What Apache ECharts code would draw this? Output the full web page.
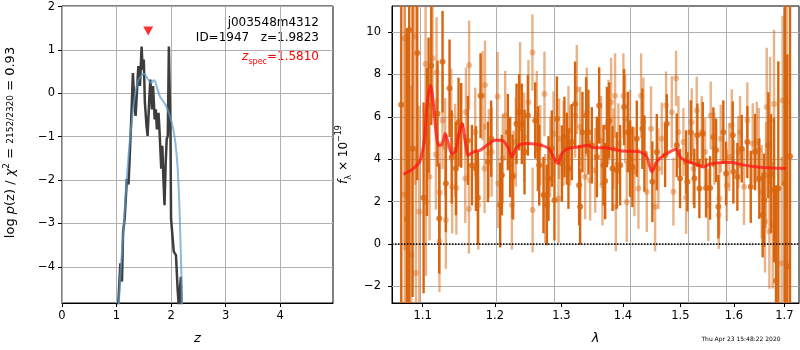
<!DOCTYPE html>
<html><head><meta charset="utf-8">
<script src="https://cdn.jsdelivr.net/npm/echarts@6/dist/echarts.min.js"></script>
<style>html,body{margin:0;padding:0;background:#fff}#c{width:800px;height:350px}</style>
</head><body><div id="c"></div>
<script>
// ---------- left panel: log p(z) ----------
const pzZ = [1.03,1.07,1.10,1.12,1.15,1.17,1.19,1.22,1.24,1.27,1.30,1.33,1.35,1.38,1.40,1.43,1.46,1.48,1.50,1.52,1.55,1.57,1.60,1.62,1.65,1.67,1.70,1.72,1.74,1.77,1.79,1.82,1.84,1.86,1.88,1.90,1.92,1.94,1.96,1.97,1.99,2.00,2.03,2.05,2.09,2.12,2.14,2.16,2.18,2.19];
const pzLogP = [-4.9,-3.92,-4.34,-3.20,-2.89,-2.85,-1.97,-2.10,-1.51,-0.60,0.47,-0.29,-0.52,0.17,0.63,0.17,1.08,0.55,0.78,-0.21,-0.75,-0.98,-0.14,0.32,-0.37,0.17,-0.60,-0.37,-0.83,-0.45,-0.90,-1.74,-1.21,-1.97,-2.58,-1.66,-1.06,-0.98,1.08,1.12,-0.98,-2.89,-3.35,-3.65,-3.73,-4.50,-4.9,-4.9,-4.23,-4.9];
const fitZ = [1.04,1.08,1.12,1.16,1.20,1.24,1.28,1.32,1.36,1.40,1.45,1.50,1.55,1.60,1.64,1.68,1.71,1.75,1.80,1.85,1.90,1.95,2.00,2.04,2.08,2.12,2.15,2.17,2.19,2.20];
const fitLogP = [-4.9,-4.0,-3.3,-2.5,-1.75,-1.15,-0.65,-0.2,0.12,0.30,0.40,0.45,0.38,0.28,0.25,0.30,0.27,0.10,-0.08,-0.17,-0.27,-0.42,-0.62,-0.82,-1.15,-1.7,-2.5,-3.3,-4.2,-4.9];
const zSpec = 1.581, zSpecMarkY = 1.44;
const leftXTicks = [0,1,2,3,4];
const leftYTicks = [-4,-3,-2,-1,0,1,2];

// ---------- right panel: spectrum ----------
const rightXTicks = [1.1,1.2,1.3,1.4,1.5,1.6,1.7];
const rightYTicks = [-2,0,2,4,6,8,10];
const darkWave = [1.0722,1.0795,1.0825,1.0869,1.0930,1.1014,1.1058,1.1080,1.1116,1.1200,1.1223,1.1268,1.1313,1.1363,1.1393,1.1451,1.1487,1.1524,1.1617,1.1673,1.1730,1.1757,1.1795,1.1900,1.1947,1.2077,1.2102,1.2189,1.2223,1.2258,1.2317,1.2356,1.2396,1.2436,
1.2486,1.2597,1.2638,1.2658,1.2723,1.2775,1.2800,1.2851,1.2892,1.2930,1.3008,1.3048,1.3086,1.3111,1.3165,1.3217,1.3281,1.3297,1.3334,1.3393,1.3430,1.3485,1.3567,1.3605,1.3676,1.3703,1.3732,1.3770,1.3825,1.3897,1.3952,1.4019,1.4081,1.4120,1.4160,1.4235,1.4331,1.4366,1.4504,1.4582,
1.4728,1.4758,1.4936,1.4996,1.5105,1.5129,1.5190,1.5256,1.5311,1.5348,1.5411,1.5472,1.5547,1.5609,1.5660,1.5703,1.5797,1.5849,1.5977,1.5989,1.6066,1.6151,1.6260,1.6327,1.6411,1.6496,1.6563,1.6590,1.6676,1.6730,1.6791,1.6831,1.6878,1.7014,1.7061,1.7117];
const darkFlux = [6.57,1.18,10.10,4.50,9.01,2.18,4.82,6.54,8.41,6.15,1.21,8.60,2.86,7.35,4.11,3.56,5.75,5.60,4.89,3.72,3.56,2.18,7.00,3.87,4.97,1.84,3.25,5.28,4.11,3.17,5.67,6.22,5.67,4.34,
6.07,5.83,4.50,3.72,2.31,1.84,3.09,4.50,2.07,5.91,3.80,5.05,4.50,3.56,4.81,6.61,2.78,1.76,5.28,6.07,5.28,4.66,4.11,6.54,3.72,2.97,5.52,5.83,3.56,3.48,3.72,6.46,5.28,4.03,3.64,4.97,5.44,4.27,2.94,4.34,
4.19,5.67,4.66,3.09,3.87,2.94,5.28,3.09,5.13,2.62,5.20,2.65,2.65,5.05,4.42,1.76,5.28,3.33,5.13,3.41,3.17,4.50,4.81,2.70,4.34,3.09,1.37,2.07,4.66,3.33,2.54,-1.73,2.62,2.86,-1.05,4.14];
const darkErr = [10,9,13,7,6,4.5,3.5,3.2,2.8,2.5,2.6,2.4,2.3,2.3,2.2,2.2,2.1,2.0,2.1,1.9,2.0,2.2,2.0,1.9,1.8,2.0,1.9,1.8,1.9,2.0,1.9,1.8,1.9,2.0,
1.9,1.8,2.0,1.9,1.8,1.9,2.0,1.8,1.9,2.0,1.8,1.9,1.7,1.9,1.8,2.0,1.9,1.8,1.9,1.8,2.0,1.8,1.9,1.8,1.9,1.8,1.9,1.8,2.0,1.8,1.9,1.8,1.9,1.8,1.9,1.8,1.9,1.8,1.9,1.8,
1.5,1.4,1.5,1.4,1.5,1.4,1.5,1.4,1.5,1.4,1.5,1.4,1.5,1.4,1.5,1.5,1.5,1.5,1.6,1.5,1.6,1.6,1.7,1.7,1.8,1.9,2.0,2.2,2.5,2.8,3.4,4.5,6,9,10,12];
const lightWave = [1.0765,1.0768,1.0852,1.0904,1.0913,1.0956,1.1040,1.1045,1.1093,1.1133,1.1178,1.1187,1.1226,1.1230,1.1268,1.1304,1.1313,1.1386,1.1399,1.1441,1.1457,1.1580,1.1590,1.1631,1.1634,1.1720,1.1764,1.1823,1.1852,1.1859,1.1913,1.1954,1.2039,1.2049,1.2115,1.2150,1.2248,1.2272,1.2307,1.2370,1.2431,
1.2495,1.2555,1.2558,1.2622,1.2673,1.2738,1.2749,1.2826,1.2877,1.2955,1.2965,1.3033,1.3111,1.3138,1.3217,1.3244,1.3297,1.3377,1.3404,1.3458,1.3540,1.3637,1.3659,1.3757,1.3802,1.3840,1.3868,1.3880,1.3923,1.4007,1.4036,1.4064,1.4120,1.4194,1.4263,1.4309,1.4348,1.4407,1.4481,1.4552,1.4610,
1.4670,1.4746,1.4847,1.4876,1.4924,1.4966,1.5056,1.5105,1.5208,1.5237,1.5300,1.5392,1.5453,1.5514,1.5559,1.5627,1.5710,1.5721,1.5748,1.5862,1.5912,1.5958,1.6085,1.6118,1.6196,1.6260,1.6366,1.6446,1.6485,1.6544,1.6610,1.6630,1.6644,1.6697,1.6711,1.6765,1.6791,1.6946,1.6966,1.7048];
const lightFlux = [9.71,2.34,-0.51,9.79,-1.37,1.53,8.49,2.00,3.17,8.76,4.22,8.10,0.13,2.43,5.83,4.58,1.13,6.07,2.70,4.42,2.65,3.09,6.23,1.65,8.44,5.28,1.84,7.00,3.56,7.50,4.27,4.34,6.96,2.86,4.03,6.07,1.84,3.25,4.81,7.43,5.05,
6.69,9.04,1.61,6.07,4.66,7.08,2.15,4.11,5.20,2.15,4.97,4.74,5.36,4.66,6.07,7.29,5.52,3.17,6.22,3.01,3.48,4.89,2.78,5.75,6.69,4.50,7.00,1.76,4.74,7.00,5.91,1.99,5.28,3.41,2.62,7.00,5.75,2.47,5.44,1.76,3.56,
4.97,6.54,6.22,2.47,7.82,5.28,4.81,2.18,5.75,3.56,6.30,5.28,4.34,1.84,6.07,4.50,1.37,2.15,4.97,2.78,4.11,5.60,4.34,5.28,2.70,5.83,4.74,4.81,4.42,2.47,1.06,3.25,6.46,0.59,5.83,0.90,6.61,-0.90,6.77,6.69];
const lightErr = [10,9,8,7,6,5,3.5,3.5,3.0,2.8,2.6,2.6,2.4,2.4,2.3,2.3,2.3,2.2,2.2,2.2,2.2,2.1,2.1,2.1,2.1,2.1,2.1,2.1,2.1,2.1,2.1,2.1,2.1,2.1,2.1,2.1,2.1,2.1,2.1,2.1,2.1,
2.0,1.8,2.0,2.1,1.9,2.0,2.1,1.9,2.0,2.1,1.9,2.0,2.1,1.9,2.0,2.1,1.9,2.0,2.1,1.9,2.0,2.1,1.9,2.0,2.1,1.9,2.0,2.1,1.9,2.0,2.1,1.9,2.0,2.1,1.9,2.0,2.1,1.9,2.0,2.1,1.9,
1.7,1.6,1.7,1.6,1.3,1.7,1.6,1.7,1.6,1.7,1.6,1.7,1.6,1.7,1.6,1.7,1.6,1.7,1.6,1.7,1.6,1.7,1.7,1.7,1.8,1.8,1.9,1.9,2.0,2.2,2.4,2.5,2.8,2.7,3.0,3.0,3.5,5,4,5];
const modelWave = [1.0751,1.0882,1.0970,1.1026,1.1058,1.1106,1.1147,1.1179,1.1214,1.1260,1.1304,1.1341,1.1396,1.1441,1.1487,1.1534,1.1580,1.1625,1.1696,1.1790,1.1886,1.2005,1.2102,1.2198,1.2248,1.2322,1.2446,1.2647,1.2800,1.2903,1.2945,1.3008,1.3111,1.3270,1.3430,1.3511,1.3703,1.3868,1.3981,1.4150,1.4292,1.4407,1.4494,1.4582,1.4640,1.4758,1.4924,1.4996,1.5117,1.5300,1.5422,1.5547,1.5797,1.5958,1.6118,1.6378,1.6644,1.7035];
const modelFlux = [3.29,3.57,3.96,4.98,6.54,7.48,6.54,5.29,4.66,4.69,5.21,4.82,4.27,4.35,5.13,5.68,4.82,4.19,4.35,4.43,4.66,4.90,4.90,4.51,4.11,4.58,4.74,4.69,4.51,3.96,3.80,4.27,4.51,4.58,4.66,4.54,4.54,4.46,4.39,4.38,4.35,4.11,3.41,3.88,4.05,4.27,4.47,4.11,3.91,3.76,3.64,3.78,3.85,3.85,3.76,3.66,3.60,3.57];

// ---------- chart ----------
const FONT = 'DejaVu Sans';
const L10 = Math.log10;
const xMinR = 1.0603, xMaxR = 1.7303, yMinR = -2.78, yMaxR = 11.23;
const minus = v => (v < 0 ? '\u2212' + Math.abs(v) : String(v));
const DARK = '#d8650e', LIGHT = 'rgba(216,101,14,0.5)';

function barData(w, f, e) { return w.map((x, i) => [L10(x), f[i] - e[i], f[i] + e[i]]); }
function ptData(w, f) { return w.map((x, i) => [L10(x), f[i]]); }
function errRender(color) {
  return function (params, api) {
    const x = api.value(0);
    const lo = Math.max(api.value(1), yMinR), hi = Math.min(api.value(2), yMaxR);
    const a = api.coord([x, lo]), b = api.coord([x, hi]);
    return { type: 'line', shape: { x1: a[0], y1: a[1], x2: b[0], y2: b[1] },
      style: { stroke: color, lineWidth: 2.4 } };
  };
}
function gridLines(xs, ys) {
  return { silent: true, z: 1, symbol: ['none', 'none'], label: { show: false }, emphasis: { disabled: true },
    lineStyle: { color: '#b0b0b0', width: 1, type: 'solid' },
    data: xs.map(v => ({ xAxis: v })).concat(ys.map(v => ({ yAxis: v }))) };
}
const tickStyle = (vals) => ({ show: true, inside: false, length: 4, lineStyle: { color: '#000', width: 1 }, customValues: vals });
const noSplit = { show: false };
const axLine = { show: true, onZero: false, lineStyle: { color: '#000', width: 1 } };
const lbl = (vals, fmt, margin) => ({ customValues: vals, formatter: fmt, color: '#000', fontSize: 11.5, fontFamily: FONT, margin: margin });

const chart = echarts.init(document.getElementById('c'));
chart.setOption({
  animation: false,
  backgroundColor: '#fff',
  textStyle: { fontFamily: FONT },
  grid: [
    { left: 62, top: 6, width: 271, height: 298, show: true, borderColor: '#000', borderWidth: 1 },
    { left: 392, top: 6, width: 407, height: 298, show: true, borderColor: '#000', borderWidth: 1 }
  ],
  xAxis: [
    { gridIndex: 0, type: 'value', min: 0, max: 4.97, axisLine: axLine, axisTick: tickStyle(leftXTicks),
      axisLabel: lbl(leftXTicks, v => minus(v), 7), splitLine: noSplit,
      name: 'z', nameLocation: 'middle', nameGap: 29,
      nameTextStyle: { fontStyle: 'italic', fontSize: 13, color: '#000', fontFamily: FONT } },
    { gridIndex: 1, type: 'value', min: L10(xMinR), max: L10(xMaxR), axisLine: axLine,
      axisTick: tickStyle(rightXTicks.map(L10)),
      axisLabel: lbl(rightXTicks.map(L10), v => Math.pow(10, v).toFixed(1), 7), splitLine: noSplit,
      name: 'λ', nameLocation: 'middle', nameGap: 29,
      nameTextStyle: { fontStyle: 'italic', fontSize: 13, color: '#000', fontFamily: FONT } }
  ],
  yAxis: [
    { gridIndex: 0, type: 'value', min: -4.835, max: 2.015, axisLine: axLine, axisTick: tickStyle(leftYTicks),
      axisLabel: lbl(leftYTicks, v => minus(v), 7), splitLine: noSplit,
      name: 'log {i|p}(z) / {i|χ}{sup|2} = {fr|2152/2320} = 0.93', nameLocation: 'middle', nameGap: 42, nameRotate: 90,
      nameTextStyle: { fontSize: 13, color: '#000', fontFamily: FONT, lineHeight: 18, padding: [0, 0, 0, 24],
        rich: { i: { fontStyle: 'italic', fontSize: 13, fontFamily: FONT, color: '#000', lineHeight: 18 },
                sup: { fontSize: 9, fontFamily: FONT, color: '#000', verticalAlign: 'top', lineHeight: 10 },
                fr: { fontSize: 9, fontFamily: FONT, color: '#000' } } } },
    { gridIndex: 1, type: 'value', min: yMinR, max: yMaxR, axisLine: axLine, axisTick: tickStyle(rightYTicks),
      axisLabel: lbl(rightYTicks, v => minus(v), 11), splitLine: noSplit,
      name: '{i|f}{sub|λ} × 10{sup|−19}', nameLocation: 'middle', nameGap: 39, nameRotate: 90,
      nameTextStyle: { fontSize: 12, color: '#000', fontFamily: FONT, lineHeight: 18,
        rich: { i: { fontStyle: 'italic', fontSize: 12, fontFamily: FONT, color: '#000', lineHeight: 18 },
                sub: { fontSize: 8, fontFamily: FONT, color: '#000', verticalAlign: 'bottom', lineHeight: 10 },
                sup: { fontSize: 8, fontFamily: FONT, color: '#000', verticalAlign: 'top', lineHeight: 10 } } } }
  ],
  series: [
    { type: 'line', xAxisIndex: 0, yAxisIndex: 0, data: pzZ.map((z, i) => [z, pzLogP[i]]), symbol: 'none',
      lineStyle: { color: '#3d3d3d', width: 2.5 }, clip: true,
      markLine: gridLines(leftXTicks, leftYTicks) },
    { type: 'line', xAxisIndex: 0, yAxisIndex: 0, data: fitZ.map((z, i) => [z, fitLogP[i]]), symbol: 'none', smooth: 0.4,
      lineStyle: { color: 'rgba(90,155,205,0.7)', width: 2 }, clip: true },
    { type: 'scatter', xAxisIndex: 0, yAxisIndex: 0, data: [[zSpec, zSpecMarkY]], symbol: 'triangle', symbolRotate: 180,
      symbolSize: [10, 9], itemStyle: { color: '#ff0000' } },

    { type: 'custom', xAxisIndex: 1, yAxisIndex: 1, data: barData(lightWave, lightFlux, lightErr), renderItem: errRender(LIGHT), clip: true, encode: { x: 0, y: [1, 2] } },
    { type: 'scatter', xAxisIndex: 1, yAxisIndex: 1, data: ptData(lightWave, lightFlux), symbolSize: 6, itemStyle: { color: LIGHT }, clip: true,
      markLine: gridLines(rightXTicks.map(L10), rightYTicks) },
    { type: 'custom', xAxisIndex: 1, yAxisIndex: 1, data: barData(darkWave, darkFlux, darkErr), renderItem: errRender(DARK), clip: true, encode: { x: 0, y: [1, 2] } },
    { type: 'scatter', xAxisIndex: 1, yAxisIndex: 1, data: ptData(darkWave, darkFlux), symbolSize: 6, itemStyle: { color: DARK }, clip: true },
    { type: 'line', xAxisIndex: 1, yAxisIndex: 1, data: ptData(modelWave, modelFlux), symbol: 'none', smooth: 0.3,
      lineStyle: { color: 'rgba(255,20,20,0.75)', width: 3 },
      markLine: { silent: true, symbol: ['none', 'none'], label: { show: false }, emphasis: { disabled: true },
        lineStyle: { color: '#000', type: 'dotted', width: 1.5 }, data: [{ yAxis: 0 }] } }
  ],
  graphic: [
    { type: 'text', x: 319, y: 23, style: { text: 'j003548m4312', fontSize: 12, fontFamily: FONT, fill: '#000', align: 'right', verticalAlign: 'middle' } },
    { type: 'text', x: 319, y: 38, style: { text: 'ID=1947   z=1.9823', fontSize: 12, fontFamily: FONT, fill: '#000', align: 'right', verticalAlign: 'middle' } },
    { type: 'text', x: 319, y: 57, style: { text: '{a|z}{b|spec}{c|=1.5810}', align: 'right', verticalAlign: 'middle',
        rich: { a: { fontStyle: 'italic', fontSize: 12, fontFamily: FONT, fill: '#ff0000', lineHeight: 18 },
                b: { fontSize: 8, fontFamily: FONT, fill: '#ff0000', verticalAlign: 'bottom', lineHeight: 10 },
                c: { fontSize: 12, fontFamily: FONT, fill: '#ff0000', lineHeight: 18 } } } },
    { type: 'text', x: 741, y: 339, style: { text: 'Thu Apr 23 15:48:22 2020', fontSize: 6, fontFamily: FONT, fill: '#000', align: 'center', verticalAlign: 'middle' } }
  ]
});
</script></body></html>
